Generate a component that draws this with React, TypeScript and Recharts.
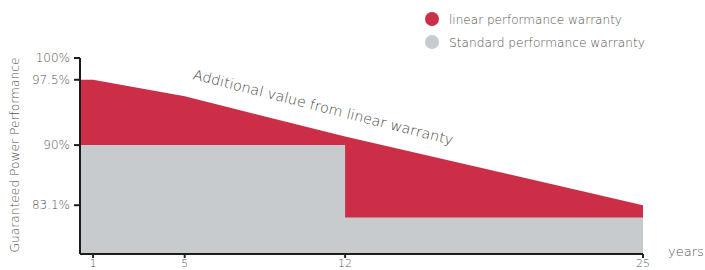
import React from 'react';
import { ComposedChart, Area, XAxis, YAxis, Legend, Customized } from 'recharts';

// ---- data ----
const years = [0.43, 1, 5, 12, 25];
const linearWarranty = [97.5, 97.5, 95.6, 91.0, 83.1];
const standardWarranty = [90, 90, 90, 81.7, 81.7];
const xTicks = [1, 5, 12, 25];
const yTicks = [83.1, 90, 97.5, 100];
const seriesNames = ['linear performance warranty', 'Standard performance warranty'];
const legendTextWidths = [173, 196];
const yAxisTitle = 'Guaranteed Power Performance';
const xAxisTitle = 'years';
const annotation = 'Additional value from linear warranty';

const RED = '#CC2E47';
const GRAY = '#C8CBCE';
const FONT = "'DejaVu Sans', 'Open Sans', sans-serif";
const TEXT = '#555555';
const AXIS = '#1c1c1c';

const data = years.map((year, i) => ({
  year,
  linear: linearWarranty[i],
  standard: standardWarranty[i],
}));

const LegendContent = (props: any) => {
  const payload = [...(props.payload || [])].sort(
    (a: any, b: any) => seriesNames.indexOf(a.value) - seriesNames.indexOf(b.value)
  );
  return (
    <svg width={280} height={52} style={{ display: 'block' }}>
      {payload.map((p: any, i: number) => (
        <g key={i}>
          <circle cx={12} cy={15 + i * 23} r={7} fill={p.color} />
          <text
            x={29}
            y={15 + i * 23}
            dominantBaseline="central"
            fontFamily={FONT}
            fontSize={13}
            fontWeight={300}
            fill={TEXT}
            textLength={legendTextWidths[seriesNames.indexOf(p.value)]}
            lengthAdjust="spacingAndGlyphs"
          >
            {p.value}
          </text>
        </g>
      ))}
    </svg>
  );
};

const Annotations = () => (
  <g>
    <text
      x={14}
      y={155}
      transform="rotate(-90 14 155)"
      textAnchor="middle"
      dominantBaseline="central"
      fontFamily={FONT}
      fontSize={13}
      fontWeight={300}
      fill={TEXT}
      textLength={195}
      lengthAdjust="spacingAndGlyphs"
    >
      {yAxisTitle}
    </text>
    <text
      x={668}
      y={256}
      fontFamily={FONT}
      fontSize={13}
      fontWeight={300}
      fill={TEXT}
    >
      {xAxisTitle}
    </text>
    <text
      x={322}
      y={112}
      transform="rotate(14.3 322 112)"
      textAnchor="middle"
      fontFamily={FONT}
      fontSize={14}
      fontWeight={300}
      fill="#444444"
      textLength={268}
      lengthAdjust="spacingAndGlyphs"
    >
      {annotation}
    </text>
  </g>
);

export default function App() {
  return (
    <div style={{ position: 'absolute', left: 0, top: 0, width: 705, height: 270, background: '#fff' }}>
      <ComposedChart
        width={705}
        height={270}
        data={data}
        margin={{ top: 58, right: 62, bottom: 0, left: 0 }}
      >
        <Area
          dataKey="linear"
          name={seriesNames[0]}
          type="linear"
          fill={RED}
          fillOpacity={1}
          stroke="none"
          isAnimationActive={false}
          legendType="circle"
        />
        <Area
          dataKey="standard"
          name={seriesNames[1]}
          type="stepAfter"
          fill={GRAY}
          fillOpacity={1}
          stroke="none"
          isAnimationActive={false}
          legendType="circle"
        />
        <XAxis
          type="number"
          dataKey="year"
          domain={[0.43, 25]}
          ticks={xTicks}
          allowDataOverflow
          interval={0}
          height={16}
          axisLine={{ stroke: AXIS, strokeWidth: 2 }}
          tickLine={{ stroke: '#17301a', strokeWidth: 2 }}
          tickSize={4}
          tickMargin={1}
          tick={{ fill: TEXT, fontSize: 11, fontFamily: FONT, fontWeight: 300 }}
        />
        <YAxis
          type="number"
          domain={[77.5, 100]}
          ticks={yTicks}
          allowDataOverflow
          interval={0}
          width={80}
          tickFormatter={(v: number) => `${v}%`}
          axisLine={{ stroke: AXIS, strokeWidth: 2 }}
          tickLine={{ stroke: AXIS, strokeWidth: 2 }}
          tickSize={6}
          tickMargin={4}
          tick={{ fill: TEXT, fontSize: 12, fontFamily: FONT, fontWeight: 300 }}
        />
        <Legend
          layout="horizontal"
          verticalAlign="middle"
          align="center"
          content={<LegendContent />}
          wrapperStyle={{ position: 'absolute', left: 420, top: 4, width: 280, height: 52 }}
        />
        <Customized component={Annotations} />
      </ComposedChart>
    </div>
  );
}
